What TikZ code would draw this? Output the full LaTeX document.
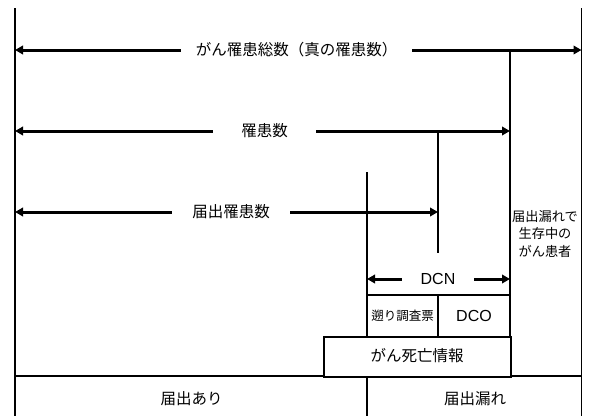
\documentclass[tikz,border=0pt]{standalone}
\usepackage{fontspec}
\setmainfont{Noto Sans CJK JP}
\newfontfamily\latinfont{Liberation Sans}
\usetikzlibrary{arrows.meta}
\begin{document}
\begin{tikzpicture}[x=1pt,y=-1pt,
  thinline/.style={line width=1.2pt},
  boxline/.style={line width=1.6pt},
  arr/.style={line width=3pt,-{Triangle[length=8pt,width=8.5pt]}},
  lbl/.style={inner sep=0pt,font=\fontsize{15.5}{18}\selectfont},
  latin/.style={inner sep=0pt,font=\latinfont\fontsize{16}{18}\selectfont},
  small/.style={inner sep=0pt,font=\fontsize{12.5}{17.5}\selectfont,align=center},
  smaller/.style={inner sep=0pt,font=\fontsize{13.2}{17.5}\selectfont,align=center},
]
\useasboundingbox (0,0) rectangle (589,416);
% frame coordinates
\coordinate (Ltop) at (15,8);
\coordinate (Lbot) at (15,416);
\coordinate (Rtop) at (581.5,8);
\coordinate (Rbot) at (581.5,416);
\draw[thinline] (Ltop) -- (Lbot);
\draw[thinline] (Rtop) -- (Rbot);
% bottom separator
\coordinate (Bl) at (15,376);
\coordinate (Br) at (581.5,376);
\draw[thinline] (Bl) -- (Br);
% vertical lines
\coordinate (V1t) at (510,50);
\coordinate (V1b) at (510,377);
\draw[thinline] (V1t) -- (V1b);
\coordinate (V2t) at (438,131);
\coordinate (V2b) at (438,253);
\draw[thinline] (V2t) -- (V2b);
\coordinate (V3t) at (367,172);
\coordinate (V3m) at (367,336);
\coordinate (V3n) at (367,376);
\coordinate (V3b) at (367,416);
\draw[thinline] (V3t) -- (V3m);
\draw[thinline] (V3n) -- (V3b);
% DCN box row
\coordinate (H1l) at (367,295);
\coordinate (H1r) at (510,295);
\draw[thinline] (H1l) -- (H1r);
\coordinate (V4t) at (438,295);
\coordinate (V4b) at (438,336);
\draw[thinline] (V4t) -- (V4b);
% death info box
\node[draw,boxline,fill=white,minimum width=187pt,minimum height=40pt,inner sep=0pt,anchor=north west] (death) at (323,336) {};
\node[lbl] (deathtxt) at (417,356) {がん死亡情報};
% arrow 1
\coordinate (A1l) at (15,50);
\coordinate (A1r) at (581.5,50);
\node[lbl,minimum width=231pt] (t1) at (296.5,50) {がん罹患総数（真の罹患数）};
\draw[arr] (t1.west) -- (A1l);
\draw[arr] (t1.east) -- (A1r);
% arrow 2
\coordinate (A2l) at (15,131);
\coordinate (A2r) at (510,131);
\node[lbl,minimum width=103pt] (t2) at (264.5,131) {罹患数};
\draw[arr] (t2.west) -- (A2l);
\draw[arr] (t2.east) -- (A2r);
% arrow 3
\coordinate (A3l) at (15,212);
\coordinate (A3r) at (438,212);
\node[lbl,minimum width=118pt] (t3) at (231,212) {届出罹患数};
\draw[arr] (t3.west) -- (A3l);
\draw[arr] (t3.east) -- (A3r);
% DCN arrow
\coordinate (A4l) at (367,279);
\coordinate (A4r) at (510,279);
\node[latin,minimum width=72pt] (t4) at (438,279) {DCN};
\draw[arr] (t4.west) -- (A4l);
\draw[arr] (t4.east) -- (A4r);
% cells
\node[small] (sakanobori) at (402.5,316) {遡り調査票};
\node[latin] (dco) at (474,316) {DCO};
\node[smaller] (alive) at (545,234) {届出漏れで\\生存中の\\がん患者};
\node[lbl] (ari) at (191.5,399) {届出あり};
\node[lbl] (more) at (475,399) {届出漏れ};
\end{tikzpicture}
\end{document}
